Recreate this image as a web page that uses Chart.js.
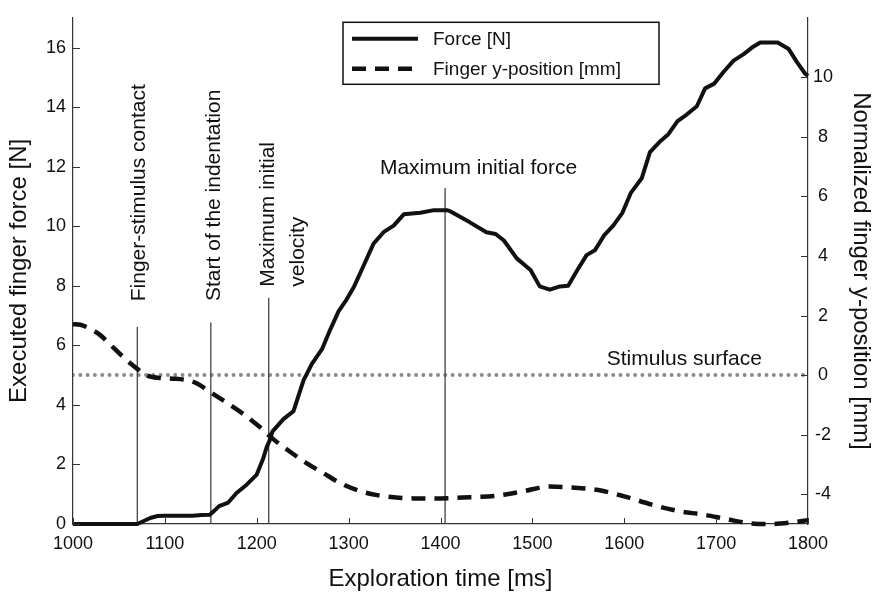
<!DOCTYPE html>
<html>
<head>
<meta charset="utf-8">
<script src="https://cdn.jsdelivr.net/npm/chart.js@4.4.1/dist/chart.umd.min.js"></script>
<style>
  html, body { margin: 0; padding: 0; background: #fff; }
</style>
</head>
<body>
<canvas id="forceChart" width="876" height="594"></canvas>
<script>
// exploration time [ms] -> executed finger force [N]
const forceTime = [1000, 1010, 1020, 1030, 1040, 1050, 1060, 1070, 1077, 1084, 1092, 1100, 1110, 1120, 1130, 1140, 1149,
    1154, 1159, 1169, 1178, 1189, 1200, 1207, 1211, 1214, 1217, 1229, 1240, 1247, 1251, 1260, 1271, 1280, 1289, 1297,
    1306, 1315, 1327, 1338, 1349, 1360, 1378, 1393, 1407, 1410, 1432, 1450, 1460, 1469, 1483, 1498, 1508, 1519, 1530,
    1539, 1548, 1559, 1568, 1578, 1588, 1598, 1607, 1619, 1628, 1638, 1648, 1658, 1668, 1679, 1688, 1698, 1708, 1719,
    1730, 1739, 1748, 1767, 1779, 1788, 1797, 1800];
const forceValues = [0, 0, 0, 0, 0, 0, 0, 0, 0.1, 0.2, 0.27, 0.28, 0.28, 0.28, 0.28, 0.3, 0.31,
    0.45, 0.6, 0.72, 1.04, 1.32, 1.66, 2.2, 2.6, 2.8, 3.1, 3.52, 3.79, 4.45, 4.83, 5.38, 5.87, 6.53, 7.14, 7.5,
    7.98, 8.59, 9.41, 9.8, 10.02, 10.4, 10.45, 10.54, 10.54, 10.51, 10.13, 9.8, 9.74, 9.52, 8.92, 8.53, 7.98, 7.87, 7.98,
    8.0, 8.48, 9.03, 9.19, 9.69, 10.02, 10.45, 11.11, 11.61, 12.49, 12.82, 13.09, 13.53, 13.75, 14.03, 14.63, 14.79, 15.18, 15.56,
    15.78, 16.0, 16.17, 16.17, 15.95, 15.51, 15.12, 15.05];

// exploration time [ms] -> normalized finger y-position [mm]
const positionTime = [1000, 1008, 1017, 1029, 1044, 1057, 1070, 1080, 1095, 1109, 1124, 1135, 1149, 1168, 1186, 1204,
    1218, 1237, 1255, 1273, 1291, 1313, 1331, 1349, 1371, 1400, 1432, 1461, 1490, 1519, 1541, 1570, 1600, 1629, 1658,
    1687, 1712, 1738, 1759, 1781, 1800];
const positionValues = [1.71, 1.69, 1.58, 1.36, 0.92, 0.54, 0.21, -0.01, -0.1, -0.12, -0.17, -0.28, -0.56, -0.94, -1.32, -1.76,
    -2.15, -2.59, -2.97, -3.3, -3.63, -3.9, -4.03, -4.1, -4.14, -4.14, -4.1, -4.05, -3.9, -3.74, -3.77, -3.85, -4.07, -4.34, -4.56,
    -4.69, -4.84, -4.98, -5.0, -4.95, -4.87];

const timeTicks = [1000, 1100, 1200, 1300, 1400, 1500, 1600, 1700, 1800];
const forceTicks = [0, 2, 4, 6, 8, 10, 12, 14, 16];
const positionTicks = [-4, -2, 0, 2, 4, 6, 8, 10];

// event markers: time [ms] and height of the marker line [N]
const eventTimes = [1070, 1150, 1213, 1405];
const eventTops = [6.62, 6.77, 7.6, 11.28];
const eventLabels = [['Finger-stimulus contact'], ['Start of the indentation'], ['Maximum initial', 'velocity'], ['Maximum initial force']];
const eventLabelTimes = [1072.4, 1154, 1212.2, 1441.4];
const eventLabelForces = [7.48, 7.49, 7.97, 11.76];

const surfaceLevel = 0;
const surfaceLabel = 'Stimulus surface';
const surfaceLabelTime = 1665.4;
const surfaceLabelLevel = 0.33;

const FONT = '"Liberation Sans", Arial, Helvetica, sans-serif';
const INK = '#111';

const toPoints = (xs, ys) => xs.map((x, i) => ({ x: x, y: ys[i] }));

const datasets = [
    {
        label: 'Force [N]',
        data: toPoints(forceTime, forceValues),
        yAxisID: 'y',
        borderColor: INK,
        borderWidth: 4,
        tension: 0,
        borderJoinStyle: 'round',
        pointRadius: 0,
        clip: false
    },
    {
        label: 'Finger y-position [mm]',
        data: toPoints(positionTime, positionValues),
        yAxisID: 'y1',
        borderColor: INK,
        borderWidth: 4.5,
        borderDash: [14, 9],
        cubicInterpolationMode: 'monotone',
        pointRadius: 0,
        clip: false
    }
];

eventTimes.forEach((t, i) => {
    datasets.push({
        label: 'event' + i,
        data: [{ x: t, y: 0 }, { x: t, y: eventTops[i] }],
        yAxisID: 'y',
        borderColor: '#444',
        borderWidth: 1.3,
        pointRadius: 0
    });
});

datasets.push({
    label: surfaceLabel,
    data: [{ x: timeTicks[0], y: surfaceLevel }, { x: timeTicks[timeTicks.length - 1], y: surfaceLevel }],
    yAxisID: 'y1',
    borderColor: '#8a8a8a',
    borderWidth: 4,
    borderDash: [0, 7.3],
    borderCapStyle: 'round',
    pointRadius: 0
});

const fixedTicks = (values) => (scale) => { scale.ticks = values.map(v => ({ value: v })); };
const plainLabel = (v) => String(v);

// short tick marks pointing into the plot
const inwardTicks = {
    id: 'inwardTicks',
    afterDatasetsDraw(chart) {
        const { ctx, chartArea: a, scales } = chart;
        ctx.save();
        ctx.strokeStyle = '#333';
        ctx.lineWidth = 1;
        ctx.beginPath();
        scales.x.ticks.forEach(t => {
            const p = Math.round(scales.x.getPixelForValue(t.value)) + 0.5;
            ctx.moveTo(p, a.bottom);
            ctx.lineTo(p, a.bottom - 6);
        });
        scales.y.ticks.forEach(t => {
            const p = Math.round(scales.y.getPixelForValue(t.value)) + 0.5;
            ctx.moveTo(a.left, p);
            ctx.lineTo(a.left + 7, p);
        });
        scales.y1.ticks.forEach(t => {
            const p = Math.round(scales.y1.getPixelForValue(t.value)) + 0.5;
            ctx.moveTo(a.right, p);
            ctx.lineTo(a.right - 7, p);
        });
        ctx.stroke();
        ctx.restore();
    }
};

// event and surface texts
const annotations = {
    id: 'annotations',
    afterDatasetsDraw(chart) {
        const { ctx, scales } = chart;
        ctx.save();
        ctx.fillStyle = INK;
        ctx.font = '21px ' + FONT;
        eventLabels.forEach((lines, i) => {
            const x = scales.x.getPixelForValue(eventLabelTimes[i]);
            const y = scales.y.getPixelForValue(eventLabelForces[i]);
            if (i === eventLabels.length - 1) {
                ctx.textAlign = 'center';
                ctx.textBaseline = 'alphabetic';
                ctx.fillText(lines[0], x, y);
                return;
            }
            ctx.save();
            ctx.translate(x, y);
            ctx.rotate(-Math.PI / 2);
            ctx.textAlign = 'left';
            ctx.textBaseline = 'middle';
            lines.forEach((txt, j) => ctx.fillText(txt, 0, j * 30));
            ctx.restore();
        });
        ctx.textAlign = 'center';
        ctx.textBaseline = 'alphabetic';
        ctx.fillText(surfaceLabel,
            scales.x.getPixelForValue(surfaceLabelTime),
            scales.y1.getPixelForValue(surfaceLabelLevel));
        ctx.restore();
    }
};

// boxed legend in the upper part of the plot
const boxLegend = {
    id: 'boxLegend',
    afterDraw(chart) {
        const { ctx, chartArea: a } = chart;
        const left = a.left + 270, top = a.top + 4.5, w = 316, h = 62;
        ctx.save();
        ctx.fillStyle = '#fff';
        ctx.fillRect(left, top, w, h);
        ctx.strokeStyle = INK;
        ctx.lineWidth = 1.5;
        ctx.strokeRect(left, top, w, h);
        [0, 1].forEach(i => {
            const ds = chart.data.datasets[i];
            const y = top + 16.5 + i * 30;
            ctx.beginPath();
            ctx.setLineDash(ds.borderDash || []);
            ctx.lineWidth = ds.borderWidth;
            ctx.strokeStyle = ds.borderColor;
            ctx.moveTo(left + 9, y);
            ctx.lineTo(left + 75, y);
            ctx.stroke();
            ctx.setLineDash([]);
            ctx.fillStyle = INK;
            ctx.font = '19px ' + FONT;
            ctx.textAlign = 'left';
            ctx.textBaseline = 'middle';
            ctx.fillText(ds.label, left + 90, y + 1);
        });
        ctx.restore();
    }
};

const tickFont = { family: FONT, size: 18 };
const titleFont = { family: FONT, size: 24 };
const axisBorder = { display: true, color: '#333', width: 1.2 };

new Chart(document.getElementById('forceChart'), {
    type: 'line',
    data: { datasets: datasets },
    options: {
        responsive: false,
        animation: false,
        events: [],
        layout: { padding: { top: 8, left: 0, right: 0, bottom: 0 } },
        plugins: {
            legend: { display: false },
            tooltip: { enabled: false }
        },
        scales: {
            x: {
                type: 'linear',
                min: 1000,
                max: 1800,
                afterBuildTicks: fixedTicks(timeTicks),
                afterFit: (scale) => { scale.height = 70; },
                grid: { display: false, drawTicks: false },
                border: axisBorder,
                ticks: { font: tickFont, color: INK, padding: 9, maxRotation: 0, callback: plainLabel },
                title: { display: true, text: 'Exploration time [ms]', font: titleFont, color: INK, padding: { top: 0, bottom: 0 } }
            },
            y: {
                type: 'linear',
                position: 'left',
                min: 0,
                max: 17,
                afterBuildTicks: fixedTicks(forceTicks),
                afterFit: (scale) => { scale.width = 73; },
                grid: { display: false, drawTicks: false },
                border: axisBorder,
                ticks: { font: tickFont, color: INK, padding: 7, callback: plainLabel },
                title: { display: true, text: 'Executed finger force [N]', font: titleFont, color: INK, padding: { top: 5, bottom: 0 } }
            },
            y1: {
                type: 'linear',
                position: 'right',
                min: -5,
                max: 12,
                afterBuildTicks: fixedTicks(positionTicks),
                afterFit: (scale) => { scale.width = 68; },
                grid: { display: false, drawTicks: false },
                border: axisBorder,
                ticks: { font: tickFont, color: INK, padding: 5, crossAlign: 'center', callback: plainLabel },
                title: { display: true, text: 'Normalized finger y-position [mm]', font: titleFont, color: INK, padding: { top: 1, bottom: 0 } }
            }
        }
    },
    plugins: [inwardTicks, annotations, boxLegend]
});
</script>
</body>
</html>
